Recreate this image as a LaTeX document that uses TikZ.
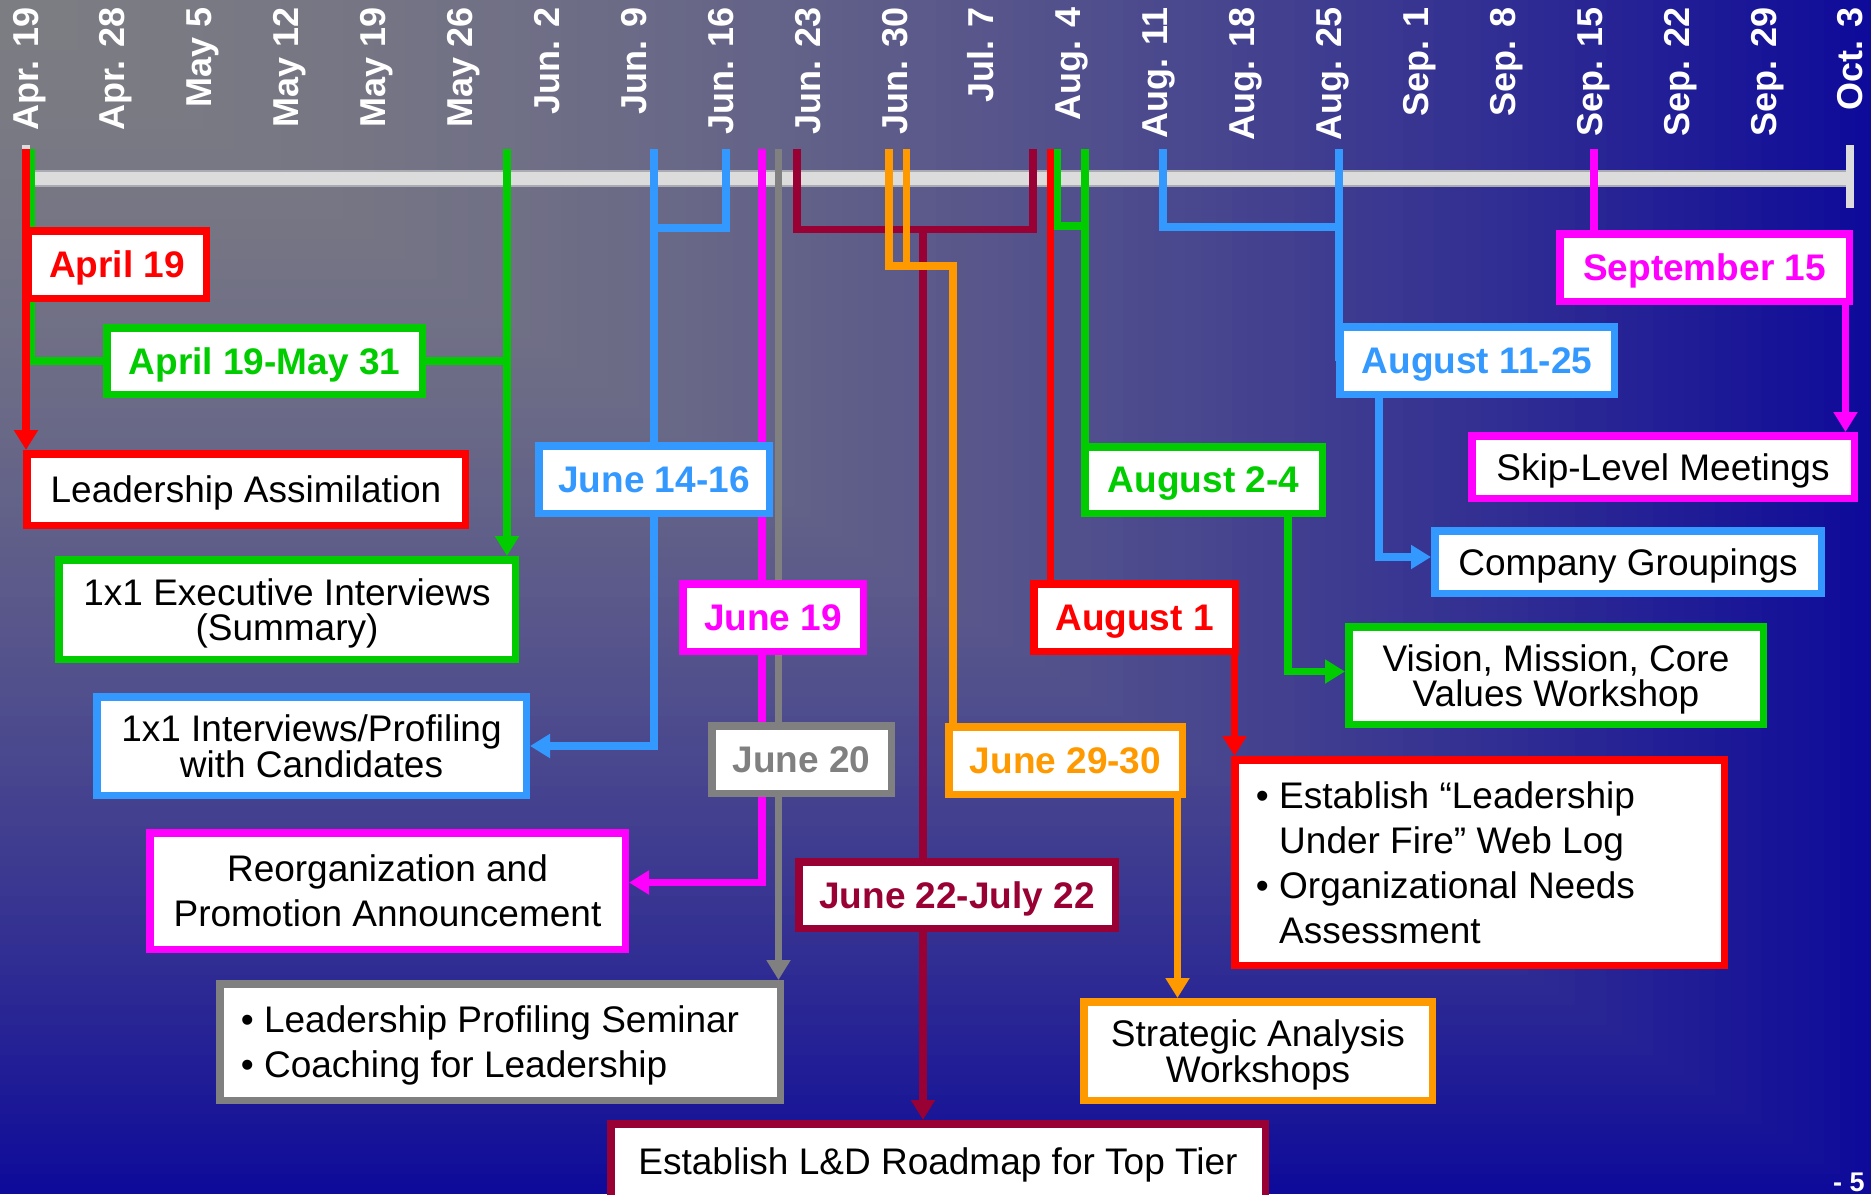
\documentclass[tikz,border=0pt]{standalone}
\usepackage{fontspec}
\setmainfont{Liberation Sans}
\usetikzlibrary{arrows.meta}
\definecolor{cRed}{RGB}{255,0,0}
\definecolor{cGreen}{RGB}{0,204,0}
\definecolor{cBlue}{RGB}{51,153,255}
\definecolor{cMag}{RGB}{255,0,255}
\definecolor{cGray}{RGB}{128,128,128}
\definecolor{cMaroon}{RGB}{153,0,51}
\definecolor{cOrange}{RGB}{255,153,0}
\definecolor{cBar}{RGB}{220,220,220}
\definecolor{cBarEdge}{RGB}{170,170,178}
\definecolor{cBG}{RGB}{124,124,131}
\definecolor{cBB}{RGB}{14,10,154}
\pgfdeclarelayer{bglayer}
\pgfdeclarelayer{linelayer}
\pgfsetlayers{bglayer,linelayer,main}
\newcommand\bodyfont{\fontsize{37pt}{35.5pt}\selectfont}
\newcommand\loosefont{\fontsize{37pt}{45pt}\selectfont}
\newcommand\datefont{\fontsize{37pt}{37pt}\selectfont\bfseries}
\newcommand\axisfont{\fontsize{36pt}{36pt}\selectfont\bfseries}
\newcommand\pagefont{\fontsize{27pt}{27pt}\selectfont\bfseries}
\begin{document}
\begin{tikzpicture}[x=1pt,y=-1pt,
  box/.style={draw, line width=7.5pt, fill=white, inner sep=0pt, text depth=0pt, align=center, font=\bodyfont},
  datebox/.style={box, font=\datefont},
  conn/.style={line width=7.5pt},
  arr/.style={line width=7.5pt, -{Triangle[length=20pt,width=23pt]}},
  datelab/.style={rotate=90, anchor=base east, inner sep=0pt, text=white, font=\axisfont}]
\useasboundingbox (0,0) rectangle (1871,1194);
\begin{pgfonlayer}{bglayer}
  \foreach \i in {120,119,...,1}{
    \pgfmathsetmacro\tout{\i/120}
    \pgfmathsetmacro\gmix{100*(1-((\i-0.5)/120)^1.7)}
    \fill[cBG!\gmix!cBB] (0,0) rectangle (\tout*1871,\tout*1194);
  }
  \fill[cBar, draw=cBarEdge, line width=1.5pt] (26,171) rectangle (1849,186);
  \draw[cBar, line width=8pt] (26,145) -- (26,208);
  \draw[cBar, line width=8pt] (1849.5,145) -- (1849.5,208);
\end{pgfonlayer}

% date axis labels
\foreach \lab [count=\i from 0] in {Apr. 19,Apr. 28,May 5,May 12,May 19,May 26,Jun. 2,Jun. 9,Jun. 16,Jun. 23,Jun. 30,Jul. 7,Aug. 4,Aug. 11,Aug. 18,Aug. 25,Sep. 1,Sep. 8,Sep. 15,Sep. 22,Sep. 29,Oct. 3}
  \node[datelab] (d\i) at ({38+86.9*\i},7) {\lab};

% boxes
\node[datebox, draw=cRed, text=cRed, minimum width=178.5pt, minimum height=67.5pt] (ap19) at (117,264.5) {April 19};
\node[datebox, draw=cGreen, text=cGreen, minimum width=315.5pt, minimum height=66.5pt] (am31) at (264.5,361) {April 19-May 31};
\node[box, draw=cRed, minimum width=438.5pt, minimum height=71.5pt] (lass) at (246,489.5) {Leadership Assimilation};
\node[box, draw=cGreen, minimum width=456.5pt, minimum height=99.5pt] (exec) at (287,609.5) {1x1 Executive Interviews\\(Summary)};
\node[datebox, draw=cBlue, text=cBlue, minimum width=230.5pt, minimum height=67.5pt] (j1416) at (654,479.5) {June 14-16};
\node[datebox, draw=cMag, text=cMag, minimum width=180.5pt, minimum height=67.5pt] (j19) at (773,617.5) {June 19};
\node[box, draw=cBlue, minimum width=429.5pt, minimum height=98.5pt] (prof) at (311.5,746) {1x1 Interviews/Profiling\\with Candidates};
\node[datebox, draw=cGray, text=cGray, minimum width=179.5pt, minimum height=67.5pt] (j20) at (801.5,759.5) {June 20};
\node[box, font=\loosefont, draw=cMag, minimum width=475.5pt, minimum height=116.5pt] (reorg) at (387.5,891) {Reorganization and\\Promotion Announcement};
\node[box, font=\loosefont, align=left, draw=cGray, minimum width=560.5pt, minimum height=116.5pt] (lps) at (500,1042) {• Leadership Profiling Seminar\hspace*{20pt}\\• Coaching for Leadership};
\node[datebox, draw=cMaroon, text=cMaroon, minimum width=316.5pt, minimum height=66.5pt] (j22) at (957,895) {June 22-July 22};
\node[box, draw=cMaroon, minimum width=654.5pt, minimum height=74.5pt] (ld) at (938,1161) {Establish L\&D Roadmap for Top Tier};
\node[datebox, draw=cOrange, text=cOrange, minimum width=233.5pt, minimum height=67.5pt] (j2930) at (1065.5,760.5) {June 29-30};
\node[box, draw=cOrange, minimum width=348.5pt, minimum height=98.5pt] (strat) at (1258,1051) {Strategic Analysis\\Workshops};
\node[box, font=\loosefont, align=left, draw=cRed, minimum width=489.5pt, minimum height=205.5pt] (rb) at (1479.5,862.5) {• Establish “Leadership\hspace*{68pt}\\\phantom{•\ }Under Fire” Web Log\\• Organizational Needs\\\phantom{•\ }Assessment};
\node[datebox, draw=cRed, text=cRed, minimum width=201.5pt, minimum height=67.5pt] (aug1) at (1134.5,617.5) {August 1};
\node[datebox, draw=cGreen, text=cGreen, minimum width=237.5pt, minimum height=66.5pt] (aug24) at (1203.5,480) {August 2-4};
\node[box, draw=cGreen, minimum width=414.5pt, minimum height=97.5pt] (vis) at (1556,675.5) {Vision, Mission, Core\\Values Workshop};
\node[datebox, draw=cBlue, text=cBlue, minimum width=274.5pt, minimum height=67.5pt] (a1125) at (1477,360.5) {August 11-25};
\node[box, draw=cBlue, minimum width=386.5pt, minimum height=62.5pt] (comp) at (1628,562) {Company Groupings};
\node[datebox, draw=cMag, text=cMag, minimum width=289.5pt, minimum height=67.5pt] (sep15) at (1704.5,267.5) {September 15};
\node[box, draw=cMag, minimum width=382.5pt, minimum height=62.5pt] (skip) at (1663,467) {Skip-Level Meetings};
\node[font=\pagefont, text=white, anchor=base west, inner sep=0pt] (pg) at (1833,1191) {- 5};

% connectors
\begin{pgfonlayer}{linelayer}
  \coordinate (tR1) at (26,149);
  \coordinate (tG1) at (31,149);
  \coordinate (tG2) at (507,149);
  \coordinate (tB1) at (654,149);
  \coordinate (tB2) at (726,149);
  \coordinate (tM1) at (762,149);
  \coordinate (tK) at (778.5,149);
  \coordinate (tW1) at (797,149);
  \coordinate (tO1) at (889,149);
  \coordinate (tO2) at (906.5,149);
  \coordinate (tW2) at (1033,149);
  \coordinate (tR2) at (1050.5,149);
  \coordinate (tG3) at (1057.5,149);
  \coordinate (tG4) at (1085,149);
  \coordinate (tB3) at (1163,149);
  \coordinate (tB4) at (1339,149);
  \coordinate (tM2) at (1594,149);
  \coordinate (jB) at (654,228);
  \coordinate (jW) at (1033,229.5);
  \coordinate (jW2) at (923,229.5);
  \coordinate (jO) at (953,266);
  \coordinate (jG) at (1085,226);
  \coordinate (jB2) at (1339,227);
  \coordinate (oX) at (1177.5,0);
  \coordinate (rX) at (1234.5,0);
  \coordinate (gX) at (1288,0);
  \coordinate (bX) at (1379,0);
  \coordinate (mX) at (1845.5,0);
  % green
  \draw[conn, cGreen] (tG1) |- (am31.west);
  \draw[conn, cGreen] (am31.east) -- (am31.east -| tG2);
  \draw[arr, cGreen] (tG2) -- (tG2 |- exec.north);
  \draw[conn, cGreen] (tG3) |- (jG);
  \draw[conn, cGreen] (tG4) -- (tG4 |- aug24.center);
  \draw[arr, cGreen] (gX |- aug24.south) |- ([yshift=4pt]vis.west);
  % blue
  \draw[conn, cBlue] (tB2) |- (jB);
  \draw[arr, cBlue] (tB1) |- (prof.east);
  \draw[conn, cBlue] (tB3) |- (jB2);
  \draw[conn, cBlue] (tB4) -- (tB4 |- a1125.center);
  \draw[arr, cBlue] (bX |- a1125.south) |- ([yshift=5pt]comp.west);
  % maroon
  \draw[conn, cMaroon] (tW1) |- (jW) -- (tW2);
  \draw[arr, cMaroon] (jW2) -- (jW2 |- ld.north);
  % magenta
  \draw[arr, cMag] (tM1) |- ([yshift=8.5pt]reorg.east);
  \draw[conn, cMag] (tM2) -- (tM2 |- sep15.center);
  \draw[arr, cMag] (mX |- sep15.south) -- (mX |- skip.north);
  % gray
  \draw[arr, cGray] (tK) -- (tK |- lps.north);
  % orange
  \draw[conn, cOrange] (tO1) |- (jO) -- (jO |- j2930.center);
  \draw[conn, cOrange] (tO2) -- (tO2 |- jO);
  \draw[arr, cOrange] (oX |- j2930.south) -- (oX |- strat.north);
  % red
  \draw[arr, cRed] (tR1) -- (tR1 |- lass.north);
  \draw[conn, cRed] (tR2) -- (tR2 |- aug1.center);
  \draw[arr, cRed] (rX |- aug1.south) -- (rX |- rb.north);
\end{pgfonlayer}
\end{tikzpicture}
\end{document}
